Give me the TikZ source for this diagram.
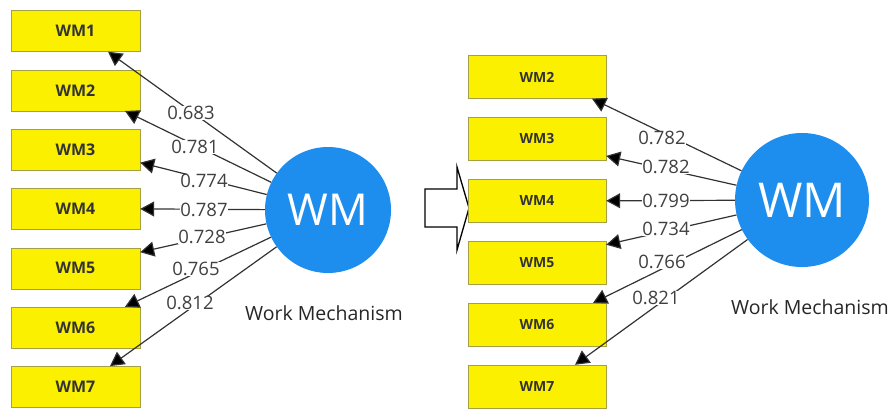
\documentclass[tikz,border=0pt]{standalone}
\usepackage{fontspec}
\setmainfont{Open Sans}
\usetikzlibrary{arrows.meta}
\definecolor{boxyellow}{RGB}{250,240,0}
\definecolor{boxline}{RGB}{165,160,70}
\definecolor{wmblue}{RGB}{30,142,238}
\definecolor{linegray}{RGB}{50,50,50}
\begin{document}
\begin{tikzpicture}[x=1pt,y=-1pt,
    lbox/.style={draw=boxline,fill=boxyellow,minimum width=129pt,minimum height=41pt,
      font=\fontsize{16}{18}\selectfont\bfseries,text=black!80},
    rbox/.style={lbox,minimum width=138pt,minimum height=43pt,font=\fontsize{14}{16}\selectfont\bfseries},
    wm/.style={circle,fill=wmblue,text=white,inner sep=0pt},
    load/.style={fill=white,inner sep=0.5pt,text=black!75,font=\fontsize{18.5}{20}\selectfont},
    caption/.style={font=\fontsize{19.5}{21}\selectfont,text=black!85},
    link/.style={draw=linegray,line width=1.2pt,-{Triangle[length=14pt,width=15pt,fill=black]}}]
        \useasboundingbox (0,0) rectangle (892,409);

        % Draw the indicator boxes (first model)
        \foreach \i in {1,...,7}
            \node[lbox] (l\i) at (75.5,{31+59.3*(\i-1)}) {WM\i};

        % Draw the latent variable (first model)
        \node[wm,minimum size=126pt,font=\fontsize{44}{44}\selectfont] (wmL) at (328,210) {WM};
        \node[caption] (capL) at (324,313) {Work Mechanism};

        % Draw the loadings (first model)
        \draw[link] (wmL) -- ([xshift=32.5pt]l1.south);
        \draw[link] (wmL) -- ([xshift=49.5pt]l2.south);
        \draw[link] (wmL) -- ([yshift=-13pt]l3.east);
        \draw[link] (wmL) -- (l4.east);
        \draw[link] (wmL) -- ([yshift=16pt]l5.east);
        \draw[link] (wmL) -- ([xshift=49.5pt]l6.north);
        \draw[link] (wmL) -- ([xshift=34.5pt]l7.north);

        % Label the loadings (first model)
        \node[load] (a1) at (191,113) {0.683};
        \node[load] (a2) at (195,147) {0.781};
        \node[load] (a3) at (204,181) {0.774};
        \node[load] (a4) at (204,210) {0.787};
        \node[load] (a5) at (202,237) {0.728};
        \node[load] (a6) at (196,269) {0.765};
        \node[load] (a7) at (190,303) {0.812};

        % Draw the block arrow between the two models
        \draw[line width=1.3pt,fill=white] (425,189) -- (457,189) -- (457,167) -- (469,208)
            -- (457,250) -- (457,227) -- (425,227) -- cycle;

        % Draw the indicator boxes (second model)
        \foreach \i in {2,...,7}
            \node[rbox] (r\i) at (537,{77+61.9*(\i-2)}) {WM\i};

        % Draw the latent variable (second model)
        \node[wm,minimum size=134pt,font=\fontsize{48}{48}\selectfont] (wmR) at (802,200) {WM};
        \node[caption] (capR) at (810,307) {Work Mechanism};

        % Draw the loadings (second model)
        \draw[link] (wmR) -- ([xshift=55pt]r2.south);
        \draw[link] (wmR) -- ([yshift=-17pt]r3.east);
        \draw[link] (wmR) -- (r4.east);
        \draw[link] (wmR) -- ([yshift=18pt]r5.east);
        \draw[link] (wmR) -- ([xshift=56pt]r6.north);
        \draw[link] (wmR) -- ([xshift=38pt]r7.north);

        % Label the loadings (second model)
        \node[load] (b2) at (662,138) {0.782};
        \node[load] (b3) at (666,167) {0.782};
        \node[load] (b4) at (666,201) {0.799};
        \node[load] (b5) at (666,229) {0.734};
        \node[load] (b6) at (662,262) {0.766};
        \node[load] (b7) at (656,298) {0.821};
    \end{tikzpicture}
\end{document}
